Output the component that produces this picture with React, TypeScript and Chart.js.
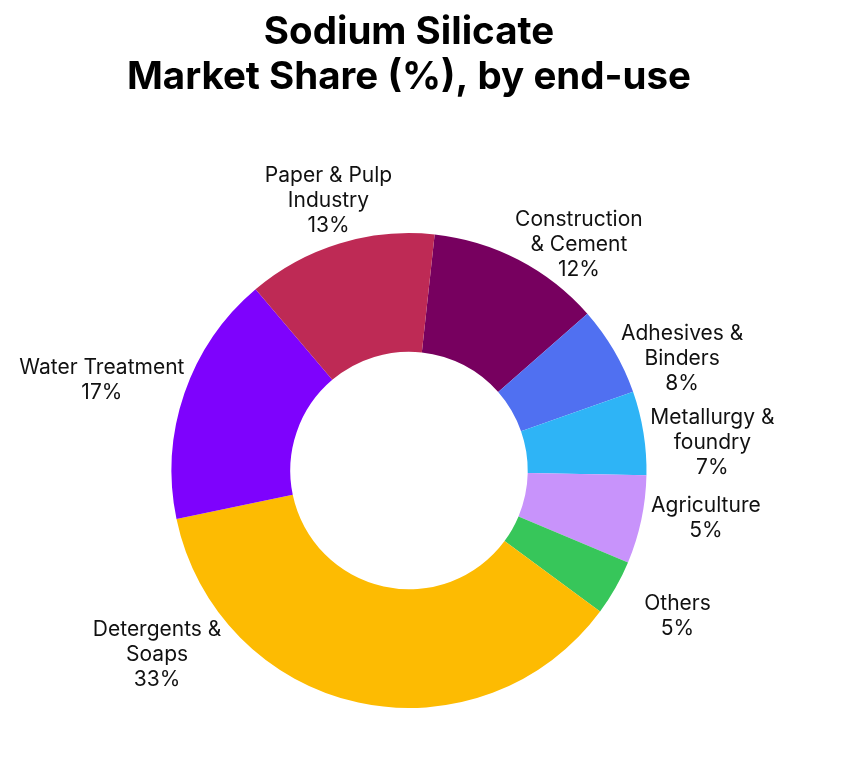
import React, { useEffect, useRef } from "react";
import { Chart, registerables } from "chart.js";

Chart.register(...registerables);

// ---- data ----
const categories = [
  "Construction & Cement",
  "Adhesives & Binders",
  "Metallurgy & foundry",
  "Agriculture",
  "Others",
  "Detergents & Soaps",
  "Water Treatment",
  "Paper & Pulp Industry",
];
// slice sizes as drawn in the picture (share of the ring)
const sliceValues = [11.8, 6.1, 5.7, 6.0, 3.8, 36.6, 17.1, 12.9];
// percentages printed in the labels
const labelPercents = ["12%", "8%", "7%", "5%", "5%", "33%", "17%", "13%"];
// label text lines (name part)
const labelLines = [
  ["Construction", "& Cement"],
  ["Adhesives &", "Binders"],
  ["Metallurgy &", "foundry"],
  ["Agriculture"],
  ["Others"],
  ["Detergents &", "Soaps"],
  ["Water Treatment"],
  ["Paper & Pulp", "Industry"],
];
const titleLines = ["Sodium Silicate", "Market Share (%), by end-use"];

// ---- styles ----
const sliceColors = [
  "#77005F",
  "#5070F1",
  "#2EB4F6",
  "#C893FB",
  "#37C65A",
  "#FDBB02",
  "#7E02FD",
  "#BE2A55",
];
// label placement: angle (deg clockwise from top) and distance as fraction of outer radius
const labelAngle = [36.8, 67.5, 84.6, 98.8, 118.2, 234.0, 286.55, 343.45];
const labelDist = [1.194, 1.245, 1.283, 1.265, 1.283, 1.311, 1.349, 1.19];
const LABEL_FONT = "21px Inter";
const LABEL_LINE = 25;
const LABEL_BASE_SHIFT = 7.6;

const outsideLabels = {
  id: "outsideLabels",
  afterDatasetsDraw(chart: any) {
    const meta = chart.getDatasetMeta(0);
    const arc = meta.data[0];
    if (!arc) return;
    const { x: cx, y: cy, outerRadius } = arc.getProps(["x", "y", "outerRadius"], true);
    const ctx = chart.ctx;
    ctx.save();
    ctx.font = LABEL_FONT;
    ctx.fillStyle = "#111111";
    ctx.textAlign = "center";
    ctx.textBaseline = "alphabetic";
    categories.forEach((_, i) => {
      const lines = [...labelLines[i], labelPercents[i]];
      const a = (labelAngle[i] * Math.PI) / 180;
      const r = outerRadius * labelDist[i];
      const x = cx + r * Math.sin(a);
      const y = cy - r * Math.cos(a);
      const n = lines.length;
      lines.forEach((t, k) => {
        const by = y + (k - (n - 1) / 2) * LABEL_LINE + LABEL_BASE_SHIFT;
        ctx.fillText(t, x, by);
      });
    });
    ctx.restore();
  },
};

export default function App() {
  const ref = useRef<HTMLCanvasElement | null>(null);
  useEffect(() => {
    if (!ref.current) return;
    const chart = new Chart(ref.current, {
      type: "doughnut",
      data: {
        labels: categories,
        datasets: [
          {
            data: sliceValues,
            backgroundColor: sliceColors,
            borderWidth: 0,
            hoverOffset: 0,
          },
        ],
      },
      options: {
        animation: false,
        responsive: true,
        maintainAspectRatio: false,
        rotation: 6.2,
        cutout: "50%",
        layout: {
          padding: { left: 0, right: 48, top: 0, bottom: 69 },
        },
        plugins: {
          legend: { display: false },
          tooltip: { enabled: false },
          title: {
            display: true,
            text: titleLines,
            color: "#000000",
            font: { family: "Inter", size: 38.5, weight: "bold", lineHeight: "45px" },
            padding: { top: 10.2, bottom: 132.8 },
          },
        },
      },
      plugins: [outsideLabels],
    });
    return () => chart.destroy();
  }, []);
  return (
    <div style={{ position: "absolute", left: 0, top: 0, width: 866, height: 777, background: "#fff" }}>
      <canvas ref={ref} />
    </div>
  );
}
